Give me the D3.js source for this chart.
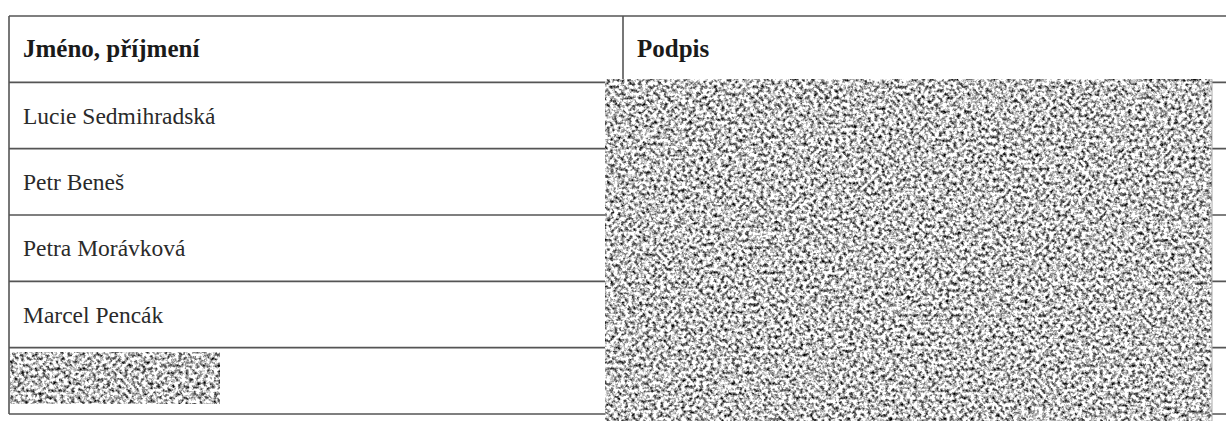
<!DOCTYPE html>
<html lang="cs">

<head>
    <meta charset="utf-8">
    <script src="https://d3js.org/d3.v7.min.js"></script>
    <style>
        body { margin: 0; background: #fff; }

        .grid line {
            stroke: #555;
            stroke-width: 1.6px;
        }

        .head text {
            font-family: "Liberation Serif", "Times New Roman", serif;
            font-weight: bold;
            font-size: 25px;
            fill: #1a1a1a;
        }

        .names text {
            font-family: "Liberation Serif", "Times New Roman", serif;
            font-size: 23.5px;
            fill: #2a2a2a;
        }
    </style>
</head>

<body>
    <div id="my_table"></div>

    <script>
        var width = 1226, height = 421;

        var headers = ["Jméno, příjmení", "Podpis"];
        // last entry is blacked out in the source
        var names = ["Lucie Sedmihradská", "Petr Beneš", "Petra Morávková", "Marcel Pencák", null];

        var rowIds = d3.range(names.length + 1);

        var y = d3.scaleBand()
            .domain(rowIds)
            .range([16, 414]);

        var x = d3.scaleOrdinal()
            .domain(["left", "mid", "right"])
            .range([9, 623, 1240]);

        var svg = d3.select("#my_table")
            .append("svg")
            .attr("width", width)
            .attr("height", height);

        // grainy redaction texture
        var defs = svg.append("defs");
        var f = defs.append("filter")
            .attr("id", "grain")
            .attr("x", 0).attr("y", 0)
            .attr("width", 1).attr("height", 1)
            .attr("color-interpolation-filters", "sRGB");
        f.append("feTurbulence")
            .attr("type", "fractalNoise")
            .attr("baseFrequency", 0.28)
            .attr("numOctaves", 3)
            .attr("seed", 7)
            .attr("result", "t");
        f.append("feColorMatrix")
            .attr("type", "matrix")
            .attr("values",
                "2.3 0 0 0 -0.38 " +
                "2.3 0 0 0 -0.38 " +
                "2.3 0 0 0 -0.38 " +
                "0 0 0 0 1");
        f.append("feGaussianBlur")
            .attr("stdDeviation", 0.7);

        // horizontal rules
        var grid = svg.append("g").attr("class", "grid");
        grid.selectAll("line.h")
            .data(rowIds.concat([rowIds.length]))
            .enter().append("line")
            .attr("class", "h")
            .attr("x1", x("left"))
            .attr("x2", x("right"))
            .attr("y1", function(d) { return d < rowIds.length ? y(d) : y(rowIds.length - 1) + y.bandwidth(); })
            .attr("y2", function(d) { return d < rowIds.length ? y(d) : y(rowIds.length - 1) + y.bandwidth(); });

        // vertical rules
        grid.append("line")
            .attr("x1", x("left")).attr("x2", x("left"))
            .attr("y1", y(0)).attr("y2", y(rowIds.length - 1) + y.bandwidth());
        grid.append("line")
            .attr("x1", x("mid")).attr("x2", x("mid"))
            .attr("y1", y(0)).attr("y2", y(rowIds.length - 1) + y.bandwidth());

        // header
        svg.append("g")
            .attr("class", "head")
            .selectAll("text")
            .data(headers)
            .enter().append("text")
            .attr("x", function(d, i) { return (i == 0 ? x("left") : x("mid")) + 14; })
            .attr("y", y(0) + y.bandwidth() / 2 + 8)
            .text(function(d) { return d; });

        // names
        svg.append("g")
            .attr("class", "names")
            .selectAll("text")
            .data(names)
            .enter().append("text")
            .filter(function(d) { return d != null; })
            .attr("x", x("left") + 14)
            .attr("y", function(d) { return y(names.indexOf(d) + 1) + y.bandwidth() / 2 + 8; })
            .text(function(d) { return d; });

        // redacted name cell
        var lastRow = names.length;
        svg.append("rect")
            .attr("x", x("left") + 1)
            .attr("y", y(lastRow) + 5)
            .attr("width", 210)
            .attr("height", 51)
            .attr("fill", "#fff")
            .attr("filter", "url(#grain)");

        // redacted signature column
        svg.append("rect")
            .attr("x", x("mid") - 18)
            .attr("y", y(1) - 3)
            .attr("width", 607)
            .attr("height", height - y(1) + 3)
            .attr("fill", "#fff")
            .attr("filter", "url(#grain)");
        svg.append("line")
            .attr("x1", x("mid") - 18 + 607).attr("x2", x("mid") - 18 + 607)
            .attr("y1", y(1) - 3).attr("y2", height)
            .attr("stroke", "#aaa")
            .attr("stroke-width", 1);
    </script>
</body>

</html>
